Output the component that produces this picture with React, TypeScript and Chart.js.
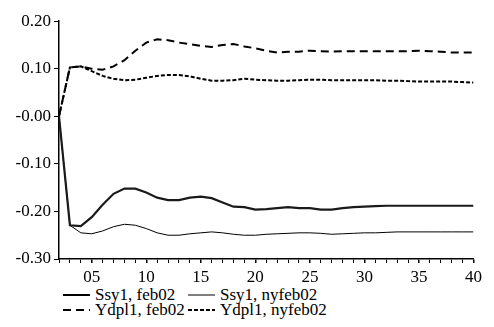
import React, { useEffect, useRef } from "react";
import { Chart, registerables } from "chart.js";

Chart.register(...registerables);

const periods = Array.from({ length: 39 }, (_, i) => i + 2);

const ssy1Feb02 = [
  0, -0.229, -0.231, -0.212, -0.186, -0.163, -0.152, -0.152, -0.16, -0.171,
  -0.176, -0.176, -0.171, -0.169, -0.172, -0.181, -0.19, -0.191, -0.196, -0.195,
  -0.193, -0.191, -0.193, -0.193, -0.196, -0.196, -0.193, -0.191, -0.19, -0.189,
  -0.188, -0.188, -0.188, -0.188, -0.188, -0.188, -0.188, -0.188, -0.188,
];

const ssy1Nyfeb02 = [
  0, -0.229, -0.245, -0.247, -0.241, -0.232, -0.227, -0.229, -0.236, -0.245,
  -0.25, -0.25, -0.247, -0.245, -0.243, -0.245, -0.248, -0.25, -0.25, -0.248,
  -0.247, -0.246, -0.245, -0.245, -0.246, -0.248, -0.247, -0.246, -0.245, -0.245,
  -0.244, -0.243, -0.243, -0.243, -0.243, -0.243, -0.243, -0.243, -0.243,
];

const ydpl1Feb02 = [
  0, 0.103, 0.105, 0.1, 0.098, 0.105, 0.118, 0.138, 0.155, 0.162,
  0.16, 0.155, 0.152, 0.148, 0.146, 0.15, 0.152, 0.147, 0.143, 0.138,
  0.134, 0.136, 0.136, 0.138, 0.137, 0.136, 0.137, 0.137, 0.137, 0.137,
  0.137, 0.137, 0.137, 0.138, 0.137, 0.136, 0.134, 0.134, 0.134,
];

const ydpl1Nyfeb02 = [
  0, 0.103, 0.105, 0.095, 0.085, 0.079, 0.076, 0.077, 0.081, 0.085,
  0.087, 0.087, 0.084, 0.079, 0.075, 0.075, 0.076, 0.079, 0.077, 0.076,
  0.075, 0.075, 0.076, 0.077, 0.077, 0.076, 0.076, 0.076, 0.076, 0.076,
  0.075, 0.075, 0.074, 0.073, 0.073, 0.073, 0.073, 0.072, 0.071,
];

const yTicks = [-0.3, -0.2, -0.1, 0, 0.1, 0.2];
const xLabelEvery = 5;

const legendItems = [
  { label: "Ssy1, feb02", width: 2, dash: "" },
  { label: "Ssy1, nyfeb02", width: 1, dash: "" },
  { label: "Ydpl1, feb02", width: 2, dash: "8 5" },
  { label: "Ydpl1, nyfeb02", width: 2, dash: "4 2" },
];

const FONT = "'Times New Roman', Times, Tinos, 'Liberation Serif', 'Nimbus Roman', FreeSerif, 'DejaVu Serif', serif";

export default function App() {
  const ref = useRef<HTMLCanvasElement>(null);

  useEffect(() => {
    const ctx = ref.current!.getContext("2d")!;
    const toXY = (arr: number[]) => arr.map((v, i) => ({ x: periods[i], y: v }));
    const chart = new Chart(ctx, {
      type: "line",
      data: {
        datasets: [
          {
            label: legendItems[0].label,
            data: toXY(ssy1Feb02),
            borderColor: "#1a1a1a",
            borderWidth: 2.2,
            pointRadius: 0,
            tension: 0,
          },
          {
            label: legendItems[1].label,
            data: toXY(ssy1Nyfeb02),
            borderColor: "#000",
            borderWidth: 1,
            pointRadius: 0,
            tension: 0,
          },
          {
            label: legendItems[2].label,
            data: toXY(ydpl1Feb02),
            borderColor: "#000",
            borderWidth: 2,
            borderDash: [8, 5],
            pointRadius: 0,
            tension: 0,
          },
          {
            label: legendItems[3].label,
            data: toXY(ydpl1Nyfeb02),
            borderColor: "#000",
            borderWidth: 2,
            borderDash: [4, 2],
            pointRadius: 0,
            tension: 0,
          },
        ],
      },
      options: {
        animation: false,
        responsive: false,
        maintainAspectRatio: false,
        layout: { padding: { top: 8, right: 8, left: 0, bottom: 0 } },
        plugins: {
          legend: { display: false },
          tooltip: { enabled: false },
        },
        scales: {
          x: {
            type: "linear",
            min: 2,
            max: 40,
            afterBuildTicks: (axis: any) => {
              axis.ticks = periods.map((p) => ({ value: p }));
            },
            afterFit: (axis: any) => {
              axis.height = 24;
            },
            ticks: {
              autoSkip: false,
              maxRotation: 0,
              minRotation: 0,
              padding: 4,
              color: "#000",
              font: { family: FONT, size: 17 },
              callback: (v: any) => {
                const n = Number(v);
                if (n % xLabelEvery !== 0) return "";
                return n < 10 ? "0" + n : String(n);
              },
            },
            grid: {
              drawOnChartArea: false,
              drawTicks: true,
              tickLength: 4,
              color: "#000",
              lineWidth: (c: any) => (c.tick && c.tick.value % xLabelEvery === 0 ? 1.5 : 1),
            },
            border: { display: true, color: "#000", width: 1.5 },
          },
          y: {
            type: "linear",
            min: -0.3,
            max: 0.2,
            afterBuildTicks: (axis: any) => {
              axis.ticks = yTicks.map((v) => ({ value: v }));
            },
            afterFit: (axis: any) => {
              axis.width = 51;
            },
            ticks: {
              padding: 3,
              color: "#000",
              font: { family: FONT, size: 17 },
              callback: (v: any) => {
                const n = Number(v);
                if (Math.abs(n) < 1e-9) return "-0.00";
                return n.toFixed(2);
              },
            },
            grid: {
              drawOnChartArea: false,
              drawTicks: true,
              tickLength: 5,
              color: "#000",
              lineWidth: 1,
            },
            border: { display: true, color: "#000", width: 1.5 },
          },
        },
      },
    });
    return () => chart.destroy();
  }, []);

  const colX = [55, 180];
  const rowY = [279, 294];

  return (
    <div style={{ position: "relative", width: 478, height: 311, fontFamily: FONT }}>
      <canvas ref={ref} width={478} height={275} style={{ display: "block" }} />
      {legendItems.map((item, i) => {
        const col = i % 2;
        const row = Math.floor(i / 2);
        return (
          <div
            key={item.label}
            style={{
              position: "absolute",
              left: colX[col],
              top: rowY[row],
              height: 16,
              display: "flex",
              alignItems: "center",
              fontSize: 17,
              lineHeight: "16px",
              color: "#000",
              whiteSpace: "nowrap",
            }}
          >
            <svg width={27} height={10} style={{ marginRight: 5 }}>
              <line
                x1={0}
                y1={5}
                x2={27}
                y2={5}
                stroke="#000"
                strokeWidth={item.width}
                strokeDasharray={item.dash || undefined}
              />
            </svg>
            <span>{item.label}</span>
          </div>
        );
      })}
    </div>
  );
}
